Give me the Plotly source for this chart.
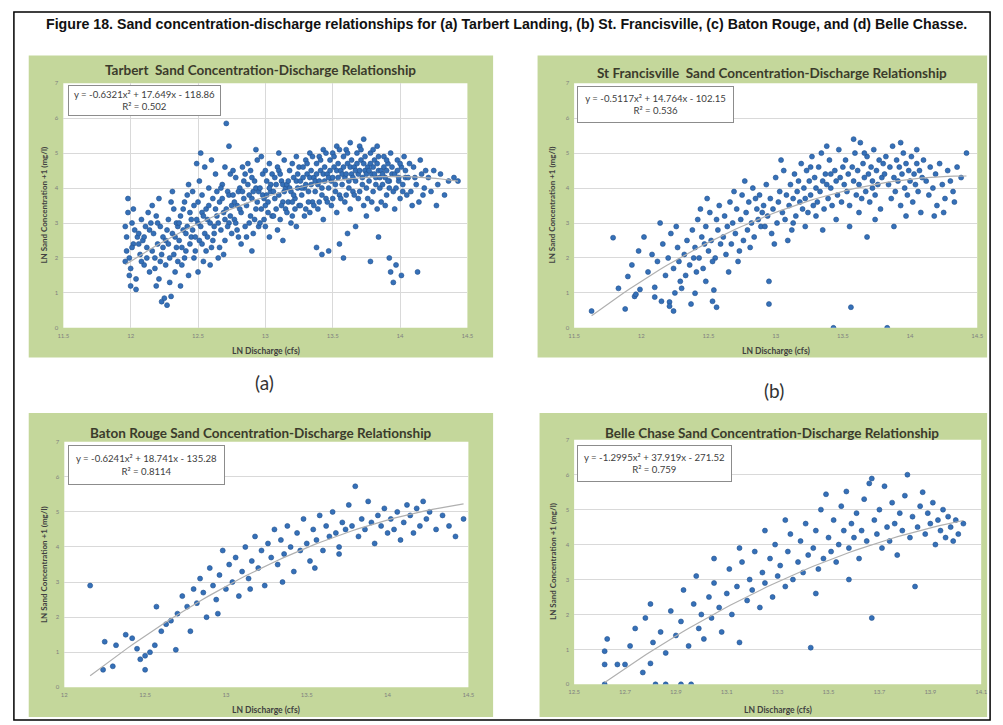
import plotly.graph_objects as go

W, H = 1003, 725

FIG_TITLE = ("Figure 18. Sand concentration-discharge relationships for (a) Tarbert Landing, "
             "(b) St. Francisville, (c) Baton Rouge, and (d) Belle Chasse.")

panel_titles = [
    "Tarbert  Sand Concentration-Discharge Relationship",
    "St Francisville  Sand Concentration-Discharge Relationship",
    "Baton Rouge Sand Concentration-Discharge Relationship",
    "Belle Chase Sand Concentration-Discharge Relationship",
]
equations = [
    "y = -0.6321x² + 17.649x - 118.86<br>R² = 0.502",
    "y = -0.5117x² + 14.764x - 102.15<br>R² = 0.536",
    "y = -0.6241x² + 18.741x - 135.28<br>R² = 0.8114",
    "y = -1.2995x² + 37.919x - 271.52<br>R² = 0.759",
]
coefs = [(-0.6321, 17.649, -118.86), (-0.5117, 14.764, -102.15),
         (-0.6241, 18.741, -135.28), (-1.2995, 37.919, -271.52)]

x_ticks_ab = [11.5, 12, 12.5, 13, 13.5, 14, 14.5]
x_ticks_c = [12, 12.5, 13, 13.5, 14, 14.5]
x_ticks_d = [12.5, 12.7, 12.9, 13.1, 13.3, 13.5, 13.7, 13.9, 14.1]
y_ticks = [0, 1, 2, 3, 4, 5, 6, 7]

x_title = "LN Discharge (cfs)"
y_title = "LN Sand Concentration +1 (mg/l)"
sub_labels = ["(a)", "(b)"]

tarbert = [
    (11.96,2.9),(11.97,2.6),(11.98,3.3),(11.96,1.9),(11.99,1.5),(12.0,1.2),(11.97,2.2),(12.01,3.0),(11.98,3.7),(12.02,2.4),
    (12.0,1.7),(12.03,2.8),(11.99,2.0),(12.04,1.1),(12.02,3.4),(12.05,2.6),(12.01,2.3),(12.04,1.4),
    (12.06,2.7),(12.07,2.1),(12.08,3.1),(12.09,2.5),(12.1,1.8),(12.11,2.9),(12.12,2.3),(12.13,3.3),(12.14,1.6),(12.06,2.4),
    (12.08,1.9),(12.1,2.6),(12.12,2.0),(12.14,2.8),(12.15,3.0),
    (12.16,2.2),(12.17,2.7),(12.18,1.7),(12.19,3.2),(12.2,2.4),(12.21,1.4),(12.22,2.9),(12.23,0.75),(12.24,2.6),(12.25,0.85),
    (12.16,3.5),(12.18,2.0),(12.2,3.0),(12.22,1.9),(12.24,2.3),(12.19,1.2),(12.21,3.7),(12.23,2.1),
    (12.26,2.5),(12.27,0.65),(12.28,3.1),(12.29,2.0),(12.3,0.9),(12.31,2.7),(12.32,3.4),(12.33,1.6),(12.34,2.3),(12.35,2.9),
    (12.26,1.8),(12.28,2.4),(12.3,3.6),(12.32,2.1),(12.34,3.0),(12.27,2.8),(12.29,1.3),(12.31,3.9),(12.33,2.6),(12.35,1.9),
    (12.36,2.5),(12.37,3.2),(12.38,1.8),(12.39,2.8),(12.4,3.6),(12.41,2.2),(12.42,2.9),(12.43,1.5),(12.44,3.3),(12.45,2.6),
    (12.36,3.0),(12.38,2.3),(12.4,2.0),(12.42,3.8),(12.44,2.4),(12.37,1.2),(12.39,3.4),(12.41,2.7),(12.43,4.1),(12.45,3.1),
    (12.46,2.8),(12.47,3.5),(12.48,2.2),(12.49,4.7),(12.5,3.0),(12.51,2.5),(12.52,5.0),(12.53,3.3),(12.54,1.9),(12.55,4.6),
    (12.46,3.9),(12.48,2.6),(12.5,3.6),(12.52,2.9),(12.54,3.2),(12.47,2.0),(12.49,3.1),(12.51,4.2),(12.53,2.4),(12.55,2.7),
    (12.5,1.6),(12.53,3.8),
    (12.56,3.4),(12.57,2.6),(12.58,4.0),(12.59,3.0),(12.6,2.3),(12.61,3.7),(12.62,2.9),(12.63,4.4),(12.64,3.2),(12.65,2.0),
    (12.56,2.2),(12.58,3.5),(12.6,4.8),(12.62,2.7),(12.64,3.9),(12.57,3.1),(12.59,1.8),(12.61,2.5),(12.63,3.4),(12.65,3.0),
    (12.66,3.6),(12.67,2.8),(12.68,4.1),(12.69,3.3),(12.7,2.5),(12.71,5.85),(12.72,3.9),(12.73,3.0),(12.74,4.4),(12.75,3.5),
    (12.66,2.3),(12.68,3.7),(12.7,4.6),(12.72,2.9),(12.74,3.2),(12.67,4.0),(12.69,2.1),(12.71,3.4),(12.73,3.8),(12.75,2.7),
    (12.7,3.1),(12.73,5.2),
    (12.76,3.8),(12.77,3.1),(12.78,4.3),(12.79,3.5),(12.8,2.6),(12.81,4.0),(12.82,3.3),(12.83,4.6),(12.84,3.7),(12.85,2.9),
    (12.76,4.5),(12.78,3.0),(12.8,3.9),(12.82,2.4),(12.84,4.2),(12.77,3.6),(12.79,2.8),(12.81,3.4),(12.83,3.9),(12.85,4.4),
    (12.86,3.5),(12.87,4.1),(12.88,3.0),(12.89,4.5),(12.9,3.7),(12.91,2.7),(12.92,4.2),(12.93,3.4),(12.94,4.8),(12.95,3.9),
    (12.86,2.6),(12.88,3.8),(12.9,4.3),(12.92,3.1),(12.94,3.6),(12.87,4.7),(12.89,3.2),(12.91,3.9),(12.93,4.0),(12.95,2.9),
    (12.9,2.2),(12.93,5.1),
    (12.96,4.0),(12.97,3.4),(12.98,4.4),(12.99,3.7),(13.0,2.9),(13.01,4.2),(13.02,3.6),(13.03,4.7),(13.04,3.9),(13.05,3.2),
    (12.96,3.0),(12.98,3.8),(13.0,4.5),(13.02,3.3),(13.04,4.1),(12.97,4.9),(12.99,3.1),(13.01,3.8),(13.03,2.6),(13.05,4.4),
    (13.0,3.5),(13.03,4.0),
    (13.06,3.9),(13.07,4.3),(13.08,3.4),(13.09,4.6),(13.1,3.8),(13.11,3.1),(13.12,4.2),(13.13,3.6),(13.14,4.8),(13.15,4.0),
    (13.06,3.2),(13.08,4.1),(13.1,4.5),(13.12,3.5),(13.14,3.9),(13.07,3.7),(13.09,2.8),(13.11,4.4),(13.13,4.1),(13.15,3.4),
    (13.1,5.0),(13.13,2.5),
    (13.16,4.1),(13.17,3.6),(13.18,4.5),(13.19,3.9),(13.2,3.2),(13.21,4.3),(13.22,3.7),(13.23,4.9),(13.24,4.0),(13.25,3.5),
    (13.16,3.3),(13.18,4.0),(13.2,4.7),(13.22,3.4),(13.24,4.4),(13.17,4.2),(13.19,3.0),(13.21,3.8),(13.23,4.2),(13.25,4.6),
    (13.2,3.6),(13.23,2.9),
    (13.26,4.2),(13.27,3.8),(13.28,4.6),(13.29,4.0),(13.3,3.4),(13.31,4.4),(13.32,3.9),(13.33,5.0),(13.34,4.1),(13.35,3.6),
    (13.26,3.5),(13.28,4.3),(13.3,4.8),(13.32,3.6),(13.34,4.5),(13.27,4.0),(13.29,3.2),(13.31,4.7),(13.33,4.3),(13.35,4.9),
    (13.3,4.1),(13.33,3.3),
    (13.36,4.3),(13.37,3.9),(13.38,4.7),(13.39,4.1),(13.4,3.6),(13.41,4.5),(13.42,4.0),(13.43,5.1),(13.44,4.2),(13.45,3.7),
    (13.36,3.5),(13.38,4.4),(13.4,4.9),(13.42,3.8),(13.44,4.6),(13.37,4.2),(13.39,3.4),(13.41,4.8),(13.43,4.4),(13.45,5.0),
    (13.4,4.2),(13.43,3.1),(13.38,2.3),(13.42,2.1),
    (13.46,4.4),(13.47,4.0),(13.48,4.8),(13.49,4.2),(13.5,3.7),(13.51,4.6),(13.52,4.1),(13.53,5.2),(13.54,4.3),(13.55,3.8),
    (13.46,3.6),(13.48,4.5),(13.5,5.0),(13.52,3.9),(13.54,4.7),(13.47,4.3),(13.49,3.5),(13.51,4.9),(13.53,4.5),(13.55,5.1),
    (13.5,4.3),(13.53,3.3),(13.47,2.2),(13.55,2.4),
    (13.56,4.5),(13.57,4.1),(13.58,4.9),(13.59,4.3),(13.6,3.8),(13.61,4.7),(13.62,4.2),(13.63,5.3),(13.64,4.4),(13.65,3.9),
    (13.56,3.7),(13.58,4.6),(13.6,5.1),(13.62,4.0),(13.64,4.8),(13.57,4.4),(13.59,3.6),(13.61,5.0),(13.63,4.6),(13.65,4.3),
    (13.6,4.4),(13.63,3.4),(13.58,2.0),(13.61,2.7),
    (13.66,4.6),(13.67,4.2),(13.68,5.0),(13.69,4.4),(13.7,3.9),(13.71,4.8),(13.72,4.3),(13.73,5.4),(13.74,4.5),(13.75,4.0),
    (13.66,3.8),(13.68,4.7),(13.7,5.2),(13.72,4.1),(13.74,4.9),(13.67,4.5),(13.69,3.7),(13.71,5.1),(13.73,4.7),(13.75,4.4),
    (13.7,4.5),(13.73,3.5),(13.67,2.9),(13.75,3.2),
    (13.76,4.6),(13.77,4.2),(13.78,5.0),(13.79,4.4),(13.8,3.9),(13.81,4.8),(13.82,4.3),(13.83,5.2),(13.84,4.5),(13.85,4.0),
    (13.76,3.7),(13.78,4.7),(13.8,5.1),(13.82,4.1),(13.84,4.9),(13.77,4.5),(13.79,3.6),(13.81,4.4),(13.83,4.7),(13.85,4.3),
    (13.8,4.6),(13.83,3.4),(13.78,1.9),(13.84,2.6),
    (13.86,4.5),(13.87,4.1),(13.88,4.9),(13.89,4.3),(13.9,3.8),(13.91,4.7),(13.92,4.2),(13.93,5.0),(13.94,4.4),(13.95,3.9),
    (13.86,3.6),(13.88,4.6),(13.9,4.8),(13.92,4.0),(13.94,4.6),(13.87,4.4),(13.89,3.5),(13.91,4.2),(13.93,1.6),(13.95,1.3),
    (13.9,4.5),(13.92,2.0),
    (13.96,4.4),(13.97,4.0),(13.98,4.8),(13.99,4.2),(14.0,3.7),(14.01,4.6),(14.02,4.1),(14.03,4.9),(14.04,4.3),(14.05,3.8),
    (13.96,3.4),(13.98,4.5),(14.0,4.7),(14.02,3.9),(14.04,4.5),(13.97,1.8),(13.99,4.3),(14.01,1.5),
    (14.06,4.3),(14.08,3.9),(14.1,4.6),(14.12,4.1),(14.14,3.6),(14.16,4.4),(14.18,4.0),(14.07,4.7),(14.09,3.5),(14.11,4.3),
    (14.13,1.6),(14.15,4.8),(14.17,3.8),(14.19,4.5),
    (14.21,4.3),(14.23,3.9),(14.25,4.5),(14.28,4.1),(14.3,4.4),(14.33,3.8),(14.36,4.2),(14.4,4.3),(14.43,4.2),(14.27,3.5),
]

st_francisville = [
    (11.63,0.48),(11.79,2.58),(11.83,1.13),(11.88,0.54),(11.9,1.47),(11.95,0.9),(11.96,0.96),(11.99,1.1),(11.93,1.8),(11.98,2.2),
    (12.1,1.16),(12.1,0.88),(12.15,0.76),(12.21,0.74),(12.21,0.62),(12.24,0.48),(12.25,1.0),(12.29,1.33),(12.3,1.13),(12.05,1.6),
    (12.08,2.1),(12.12,1.9),(12.16,2.4),(12.18,1.5),(12.2,2.0),(12.22,2.7),(12.24,1.7),(12.27,2.3),(12.28,1.9),(12.02,2.6),
    (12.14,3.0),(12.26,2.9),
    (12.37,0.68),(12.4,0.99),(12.48,1.33),(12.53,0.76),(12.54,1.08),(12.56,0.59),(12.32,2.1),(12.34,2.5),(12.36,1.8),(12.38,2.8),
    (12.4,2.3),(12.42,3.1),(12.43,2.0),(12.45,2.6),(12.46,1.7),(12.48,2.9),(12.5,2.2),(12.51,3.3),(12.52,2.5),(12.55,2.0),
    (12.57,2.8),(12.58,3.5),(12.59,2.4),(12.33,1.5),(12.44,3.4),(12.47,2.4),(12.53,1.9),(12.49,3.7),(12.56,3.1),(12.39,2.0),
    (12.41,1.6),
    (12.61,2.6),(12.62,3.2),(12.63,2.1),(12.64,2.9),(12.66,3.6),(12.67,2.4),(12.68,3.0),(12.7,2.7),(12.71,3.4),(12.72,1.9),
    (12.74,3.1),(12.75,3.8),(12.76,2.5),(12.78,3.3),(12.79,2.8),(12.8,3.6),(12.82,3.0),(12.83,4.0),(12.84,2.6),(12.86,3.4),
    (12.87,3.1),(12.88,3.8),(12.89,2.9),(12.65,1.6),(12.69,3.9),(12.73,2.2),(12.77,4.2),(12.81,2.3),(12.85,3.7),(12.9,3.3),
    (12.95,0.68),(12.95,1.33),(12.91,3.5),(12.92,2.9),(12.93,4.1),(12.94,3.2),(12.96,3.7),(12.97,2.7),(12.98,3.4),(13.0,4.3),
    (13.01,3.0),(13.02,3.6),(13.03,3.9),(13.05,3.3),(13.06,4.5),(13.07,3.1),(13.08,3.8),(13.1,3.5),(13.11,4.1),(13.12,2.8),
    (13.13,3.7),(13.14,4.4),(13.15,3.2),(13.16,3.9),(13.18,3.6),(13.19,4.7),(13.2,3.4),(12.99,2.4),(13.04,4.8),(13.09,2.5),
    (13.17,4.2),(13.13,3.0),
    (13.21,4.0),(13.22,3.7),(13.23,4.5),(13.24,3.3),(13.25,4.2),(13.26,3.8),(13.27,4.9),(13.28,3.5),(13.29,4.3),(13.3,4.0),
    (13.31,3.6),(13.32,4.6),(13.33,3.9),(13.34,5.0),(13.35,4.2),(13.36,3.4),(13.37,4.4),(13.38,4.1),(13.39,3.7),(13.4,4.8),
    (13.41,4.0),(13.42,3.5),(13.43,0.0),(13.44,4.5),(13.45,4.2),(13.46,3.8),(13.47,5.1),(13.48,4.3),(13.49,3.6),(13.5,4.6),
    (13.22,2.9),(13.3,3.2),(13.38,5.2),(13.45,3.1),(13.26,4.6),(13.35,2.8),(13.41,4.4),
    (13.51,4.1),(13.52,4.8),(13.53,3.9),(13.54,4.4),(13.55,3.5),(13.56,0.59),(13.57,4.6),(13.58,4.2),(13.59,5.0),(13.6,3.8),
    (13.61,4.5),(13.62,4.1),(13.63,5.3),(13.64,3.7),(13.65,4.7),(13.66,4.3),(13.67,3.9),(13.68,4.9),(13.69,4.4),(13.7,3.6),
    (13.71,4.6),(13.72,4.2),(13.73,5.1),(13.74,3.8),(13.75,4.5),(13.76,4.1),(13.77,4.8),(13.78,3.4),(13.79,4.3),(13.8,4.7),
    (13.55,2.9),(13.62,3.3),(13.68,2.6),(13.74,3.1),(13.58,5.4),(13.66,5.0),(13.72,4.0),
    (13.83,0.0),(13.81,4.4),(13.82,4.9),(13.84,4.1),(13.85,4.6),(13.86,3.7),(13.87,5.2),(13.88,4.3),(13.89,3.9),(13.9,4.8),
    (13.91,4.2),(13.92,4.6),(13.93,3.5),(13.94,4.4),(13.95,5.0),(13.96,4.0),(13.97,4.7),(13.98,3.8),(13.99,4.5),(14.0,4.2),
    (14.01,4.9),(14.02,3.6),(14.03,4.4),(14.04,4.1),(14.05,4.7),(14.06,3.9),(14.07,4.5),(14.08,3.3),(14.09,4.3),(14.1,4.8),
    (13.88,2.9),(13.97,3.2),(14.05,5.1),(13.93,5.3),
    (14.12,4.2),(14.14,3.8),(14.15,4.6),(14.17,4.0),(14.19,4.4),(14.2,3.5),(14.22,4.7),(14.24,4.1),(14.26,3.7),(14.28,4.5),
    (14.3,4.2),(14.32,3.9),(14.35,4.6),(14.38,4.3),(14.42,5.0),(14.18,3.2),(14.25,3.3),(14.33,3.6),
]

baton_rouge = [
    (12.16,2.9),(12.24,0.5),(12.3,0.6),(12.25,1.3),(12.32,1.2),(12.38,1.5),(12.42,1.4),(12.45,1.1),(12.47,0.8),(12.5,0.5),
    (12.5,0.9),(12.53,1.0),(12.56,1.2),(12.57,2.3),(12.6,1.6),(12.63,1.8),(12.66,1.9),(12.69,1.07),(12.7,2.1),(12.73,2.6),
    (12.76,2.3),(12.78,1.6),(12.8,2.8),(12.82,2.4),(12.84,3.1),(12.86,2.7),(12.88,2.0),(12.9,3.4),(12.92,2.9),(12.94,2.5),
    (12.96,3.2),(12.98,3.9),(13.0,2.8),(13.02,3.5),(13.04,3.0),(13.06,3.7),(13.08,2.6),(13.1,3.3),(13.12,4.0),(13.14,3.1),
    (13.16,3.6),(13.18,4.3),(13.2,3.4),(13.22,3.9),(13.24,2.9),(13.26,4.1),(13.28,3.7),(13.3,4.5),(13.32,3.5),(13.34,4.2),
    (13.36,3.8),(13.38,4.6),(13.4,4.0),(13.42,3.3),(13.44,4.4),(13.46,3.9),(13.48,4.8),(13.5,4.1),(13.52,3.6),(13.54,4.5),
    (13.56,4.2),(13.58,4.9),(13.6,3.9),(13.62,4.6),(13.64,4.3),(13.66,5.0),(13.68,4.4),(13.7,3.8),(13.72,4.7),(13.74,4.5),
    (13.76,5.2),(13.78,4.6),(13.8,5.73),(13.82,4.3),(13.84,4.8),(13.86,4.5),(13.88,5.3),(13.9,4.7),(13.92,4.1),(13.94,4.9),
    (13.96,4.6),(13.98,5.1),(14.0,4.4),(14.02,4.8),(14.04,4.5),(14.06,5.0),(14.08,4.2),(14.1,4.7),(14.12,5.2),(14.14,4.9),
    (14.16,4.4),(14.18,5.1),(14.2,4.6),(14.22,5.3),(14.24,4.8),(14.26,5.0),(14.3,4.5),(14.34,4.9),(14.38,4.6),(14.42,4.3),
    (14.47,4.8),(13.35,3.0),(13.55,3.4),(13.7,4.0),(13.15,2.8),(12.95,2.1),
]

belle_chasse = [
    (12.62,0.0),(12.82,0.0),(12.86,0.0),(12.92,0.0),(12.96,0.0),
    (12.62,0.57),(12.62,0.95),(12.63,1.3),(12.67,0.57),(12.7,0.57),(12.72,1.1),(12.74,1.6),(12.77,0.34),(12.8,0.6),(12.78,1.9),
    (12.8,2.3),(12.81,1.2),(12.84,1.5),(12.86,0.9),(12.88,2.1),(12.9,1.4),(12.92,1.8),(12.93,2.7),(12.95,1.1),(12.97,2.3),
    (12.99,1.6),(13.0,2.0),(13.01,1.3),(13.03,2.5),(13.04,1.9),(13.05,2.9),(13.07,2.2),(13.08,1.5),(13.1,2.6),(13.11,3.3),
    (13.12,2.0),(13.14,2.8),(13.15,1.2),(13.16,3.5),(13.18,2.4),(13.19,3.0),(13.2,2.7),(13.21,3.8),(13.23,2.2),(13.24,3.2),
    (13.25,2.9),(13.27,3.6),(13.28,2.5),(13.29,4.0),(13.3,3.1),(13.31,3.4),(13.33,2.8),(13.34,3.8),(13.35,4.3),(13.36,3.0),
    (13.38,3.5),(13.39,4.1),(13.4,3.2),(13.41,4.6),(13.42,3.7),(13.43,1.05),(13.44,3.9),(13.45,4.4),(13.46,3.3),(13.47,5.0),
    (13.48,3.6),(13.49,5.44),(13.5,4.2),(13.51,3.8),(13.52,4.7),(13.53,3.5),(13.54,4.0),(13.55,5.1),(13.56,4.4),(13.57,5.52),
    (13.58,3.9),(13.59,4.6),(13.6,4.2),(13.61,4.9),(13.62,3.6),(13.63,4.4),(13.64,5.3),(13.65,4.1),(13.66,5.75),(13.67,5.89),
    (13.67,1.9),(13.68,4.7),(13.69,4.3),(13.7,5.0),(13.71,3.9),(13.72,5.67),(13.73,4.5),(13.74,4.1),(13.75,5.2),(13.76,4.6),
    (13.77,3.7),(13.78,4.9),(13.79,4.4),(13.8,5.4),(13.81,6.0),(13.82,4.2),(13.83,4.8),(13.84,2.8),(13.85,4.5),(13.86,5.1),
    (13.87,5.5),(13.88,4.3),(13.89,4.9),(13.9,4.6),(13.91,5.2),(13.92,4.0),(13.93,4.7),(13.94,4.4),(13.95,5.0),(13.96,4.2),
    (13.97,4.8),(13.98,4.5),(13.99,4.1),(14.0,4.7),(14.01,4.3),(14.03,4.6),(13.33,4.7),(13.45,2.6),(13.25,4.4),(13.58,3.0),
    (13.15,3.9),(12.98,3.1),(13.05,3.6),
]

datasets = [tarbert, st_francisville, baton_rouge, belle_chasse]
x_ticks_all = [x_ticks_ab, x_ticks_ab, x_ticks_c, x_ticks_d]

# ---------- layout geometry (pixels) ----------
panels = [
    dict(green=(23, 52, 493, 357), plot=(58, 80, 467, 327), title=(258, 67), eq=(63, 82, 216, 113),
         ytitle=(38, 203), xtitle=(263, 350), vgrid=True),
    dict(green=(538, 52, 993, 357), plot=(575, 80, 983, 327), title=(775, 70), eq=(578, 83, 735, 120),
         ytitle=(553, 203), xtitle=(779, 350), vgrid=False),
    dict(green=(23, 413, 493, 720), plot=(59, 442, 468, 690), title=(258, 433), eq=(63, 445, 220, 485),
         ytitle=(38, 566), xtitle=(263, 713), vgrid=False),
    dict(green=(540, 413, 993, 720), plot=(575, 440, 987, 687), title=(775, 433), eq=(578, 445, 733, 482),
         ytitle=(553, 563), xtitle=(781, 713), vgrid=False),
]


def fx(p):
    return p / W


def fy(p):
    return 1 - p / H


GREEN = "#c4d79b"
BLUE = "#3570b8"
GRID = "#d9d9d9"
TXT = "#404040"

fig = go.Figure()
shapes = []
annotations = []

for i, (pn, data, xt) in enumerate(zip(panels, datasets, x_ticks_all)):
    n = "" if i == 0 else str(i + 1)
    gx0, gy0, gx1, gy1 = pn["green"]
    shapes.append(dict(type="rect", xref="paper", yref="paper", x0=fx(gx0), x1=fx(gx1),
                       y0=fy(gy1), y1=fy(gy0), fillcolor=GREEN, line=dict(width=0), layer="below"))
    px0, py0, px1, py1 = pn["plot"]
    shapes.append(dict(type="rect", xref="paper", yref="paper", x0=fx(px0), x1=fx(px1),
                       y0=fy(py1), y1=fy(py0), fillcolor="white", line=dict(width=0), layer="below"))

    xs = [p[0] for p in data]
    ys = [p[1] for p in data]
    fig.add_trace(go.Scatter(x=xs, y=ys, mode="markers", xaxis="x" + n, yaxis="y" + n,
                             marker=dict(size=5, color=BLUE, line=dict(width=0.6, color="#24528f")),
                             showlegend=False, hoverinfo="skip"))
    a, b, c = coefs[i]
    lo, hi = min(xs), max(xs)
    steps = 60
    tx = [lo + (hi - lo) * k / steps for k in range(steps + 1)]
    ty = [a * v * v + b * v + c for v in tx]
    fig.add_trace(go.Scatter(x=tx, y=ty, mode="lines", xaxis="x" + n, yaxis="y" + n,
                             line=dict(color="#b0b0b0", width=1.2), showlegend=False, hoverinfo="skip"))

    xr = [xt[0], xt[-1]]
    fig.layout["xaxis" + n] = dict(
        domain=[fx(px0), fx(px1)], range=xr, anchor="y" + n,
        tickvals=xt, ticktext=[("%g" % v) for v in xt],
        tickfont=dict(size=6, color="#7f7f7f", family="Lato"), ticklabelstandoff=3,
        showgrid=pn["vgrid"], gridcolor=GRID, gridwidth=1,
        zeroline=False, showline=False, ticks="", fixedrange=True)
    fig.layout["yaxis" + n] = dict(
        domain=[fy(py1), fy(py0)], range=[0, 7], anchor="x" + n,
        tickvals=y_ticks, ticktext=[str(v) for v in y_ticks],
        tickfont=dict(size=6, color="#7f7f7f", family="Lato"), ticklabelstandoff=4,
        showgrid=True, gridcolor=GRID, gridwidth=1,
        zeroline=False, showline=False, ticks="", fixedrange=True)

    tx_, ty_ = pn["title"]
    annotations.append(dict(text="<b>" + panel_titles[i] + "</b>", x=fx(tx_), y=fy(ty_), xref="paper",
                            yref="paper", showarrow=False, xanchor="center", yanchor="middle",
                            font=dict(size=13.5, color="#3b3b2b", family="Lato")))
    ex0, ey0, ex1, ey1 = pn["eq"]
    annotations.append(dict(text=equations[i], x=fx(ex0), y=fy(ey0), xref="paper", yref="paper",
                            showarrow=False, xanchor="left", yanchor="top", align="center",
                            width=ex1 - ex0 - 4, height=ey1 - ey0 - 4, borderpad=1,
                            bgcolor="white", bordercolor="#8c8c8c", borderwidth=1,
                            font=dict(size=9.6, color=TXT, family="Lato")))
    ytx, yty = pn["ytitle"]
    annotations.append(dict(text="<b>" + y_title + "</b>", x=fx(ytx), y=fy(yty), xref="paper", yref="paper",
                            showarrow=False, textangle=-90, xanchor="center", yanchor="middle",
                            font=dict(size=8, color=TXT, family="Lato")))
    xtx, xty = pn["xtitle"]
    annotations.append(dict(text="<b>" + x_title + "</b>", x=fx(xtx), y=fy(xty), xref="paper", yref="paper",
                            showarrow=False, xanchor="center", yanchor="middle",
                            font=dict(size=8.5, color=TXT, family="Lato")))

# sub-figure labels
annotations.append(dict(text=sub_labels[0], x=fx(262), y=fy(382), xref="paper", yref="paper",
                        showarrow=False, xanchor="center", yanchor="middle",
                        font=dict(size=19, color="#333333", family="Lato")))
annotations.append(dict(text=sub_labels[1], x=fx(777), y=fy(390), xref="paper", yref="paper",
                        showarrow=False, xanchor="center", yanchor="middle",
                        font=dict(size=19, color="#333333", family="Lato")))
# figure caption
annotations.append(dict(text="<b>" + FIG_TITLE + "</b>", x=fx(507), y=fy(20), xref="paper", yref="paper",
                        showarrow=False, xanchor="center", yanchor="middle",
                        font=dict(size=14.2, color="#111111", family="Liberation Sans")))
# outer frame
shapes.append(dict(type="rect", xref="paper", yref="paper", x0=fx(8), x1=fx(996), y0=fy(723), y1=fy(8),
                   line=dict(color="black", width=1.5), fillcolor="rgba(0,0,0,0)", layer="above"))

fig.update_layout(width=W, height=H, margin=dict(l=0, r=0, t=0, b=0),
                  paper_bgcolor="white", plot_bgcolor="rgba(0,0,0,0)",
                  shapes=shapes, annotations=annotations, showlegend=False)

fig.write_html("out.html", config={"displayModeBar": False},
               post_script="document.body.style.margin='0';document.body.style.overflow='hidden';")
